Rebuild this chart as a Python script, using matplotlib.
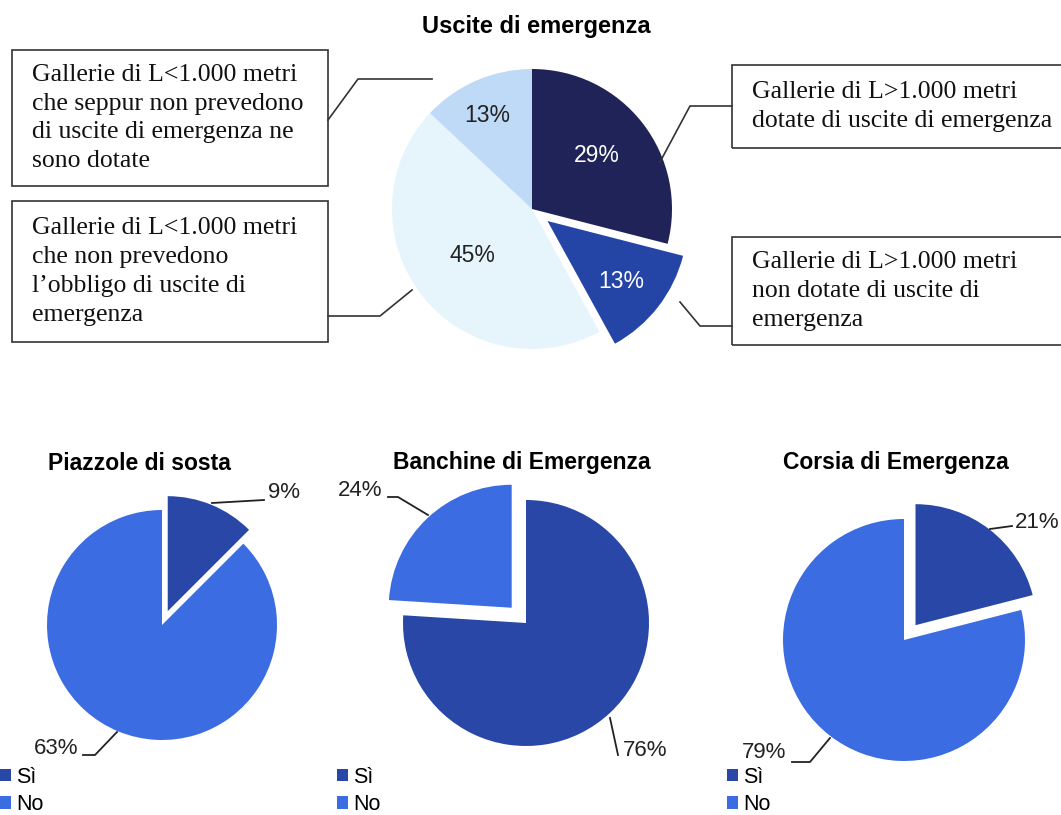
import matplotlib.pyplot as plt
from matplotlib.patches import Rectangle

W, H = 1061, 815

# --- data -------------------------------------------------------------
top_title = "Uscite di emergenza"
top_values = [29, 13, 45, 13]
top_colors = ["#1f2357", "#2545a6", "#e6f5fc", "#bfdaf6"]
top_pct_colors = ["white", "white", "#222222", "#222222"]
top_box_texts = [
    "Gallerie di L>1.000 metri\ndotate di uscite di emergenza",
    "Gallerie di L>1.000 metri\nnon dotate di uscite di\nemergenza",
    "Gallerie di L<1.000 metri\nche non prevedono\nl\u2019obbligo di uscite di\nemergenza",
    "Gallerie di L<1.000 metri\nche seppur non prevedono\ndi uscite di emergenza ne\nsono dotate",
]

bottom_titles = ["Piazzole di sosta", "Banchine di Emergenza", "Corsia di Emergenza"]
legend_labels = ["Sì", "No"]
si_values = [9, 76, 21]
no_values = [63, 24, 79]
si_color = "#2947a6"
no_color = "#3c6ce2"

# --- layout (pixels, y from top) ---------------------------------------
top_center, top_r = (532, 209), 140
top_explode = [0, 0.14, 0, 0]   # fraction of radius
top_pct_pos = [(597, 155), (621, 282), (472, 255), (487, 116)]
top_boxes = [(732, 65, 340, 83), (732, 237, 340, 108), (12, 201, 316, 141), (12, 50, 316, 136)]
top_leaders = [
    [(660, 162), (690, 106), (732, 106)],
    [(680, 302), (700, 326), (732, 326)],
    [(412, 290), (380, 316), (328, 316)],
    [(432, 79), (358, 79), (328, 120)],
]

b_centers = [(162, 625), (526, 623), (904, 640)]
b_radii = [115, 123, 121]
b_explode = [(0.13, 0), (0, 0.17), (0.155, 0)]   # fraction of radius
b_title_pos = [(139, 463), (522, 462), (896, 463)]
# positions of labels: (Sì, No)
b_label_pos = [((284, 493), (56, 748)), ((645, 750), (360, 490)), ((1037, 522), (764, 752))]
b_leaders = [
    ([(212, 503), (264, 500)], [(117, 732), (95, 755), (83, 755)]),
    ([(610, 718), (618, 755)], [(428, 515), (398, 497), (388, 497)]),
    ([(990, 529), (1012, 526)], [(830, 738), (810, 762), (792, 762)]),
]
b_legend_pos = [(0, 767), (337, 767), (727, 767)]


def fy(y):
    return H - y


fig = plt.figure(figsize=(W / 100, H / 100), dpi=100)
ax = fig.add_axes([0, 0, 1, 1])

sans = "Liberation Sans"
serif = "Liberation Serif"

# top pie (explode in matplotlib is in data units, so scale by radius)
ax.pie(top_values, colors=top_colors, startangle=90, counterclock=False,
       explode=[e * top_r for e in top_explode], radius=top_r,
       center=(top_center[0], fy(top_center[1])), wedgeprops=dict(linewidth=0))
for v, c, (x, y) in zip(top_values, top_pct_colors, top_pct_pos):
    ax.text(x, fy(y), f"{v}%", color=c, fontsize=16.5, family=sans, ha="center", va="center")
ax.text(536, fy(27), top_title, fontsize=17, family=sans, weight="bold", ha="center", va="center")

for (bx, by, bw, bh), txt in zip(top_boxes, top_box_texts):
    ax.add_patch(Rectangle((bx, fy(by + bh)), bw, bh, fill=False, edgecolor="#333333", lw=1.2))
    ax.text(bx + 20, fy(by + bh / 2), txt, fontsize=18.5, family=serif, ha="left", va="center",
            linespacing=1.41, color="#111111")
for pts in top_leaders:
    ax.plot([p[0] for p in pts], [fy(p[1]) for p in pts], color="#333333", lw=1.2)

# bottom pies
for i in range(3):
    vals = [si_values[i], no_values[i]]
    r = b_radii[i]
    wedges, _ = ax.pie(vals, colors=[si_color, no_color], startangle=90, counterclock=False,
                       explode=[e * r for e in b_explode[i]], radius=r,
                       center=(b_centers[i][0], fy(b_centers[i][1])),
                       wedgeprops=dict(linewidth=0))
    tx, ty = b_title_pos[i]
    ax.text(tx, fy(ty), bottom_titles[i], fontsize=16.5, family=sans, weight="bold",
            ha="center", va="center")
    for v, (x, y) in zip(vals, b_label_pos[i]):
        ax.text(x, fy(y), f"{v}%", fontsize=16, family=sans, ha="center", va="center", color="#222222")
    for pts in b_leaders[i]:
        ax.plot([p[0] for p in pts], [fy(p[1]) for p in pts], color="#222222", lw=1.3)
    lx, ly = b_legend_pos[i]
    fig.legend(wedges, legend_labels, loc="upper left",
               bbox_to_anchor=(lx / W, 1 - ly / H), bbox_transform=fig.transFigure,
               frameon=False, handlelength=0.5, handleheight=0.5, handletextpad=0.25,
               labelspacing=0.28, borderpad=0, borderaxespad=0,
               prop=dict(family=sans, size=15.5))

ax.set_xlim(0, W)
ax.set_ylim(0, H)
ax.set_aspect("auto")
ax.axis("off")

fig.savefig("out.png", dpi=100)
